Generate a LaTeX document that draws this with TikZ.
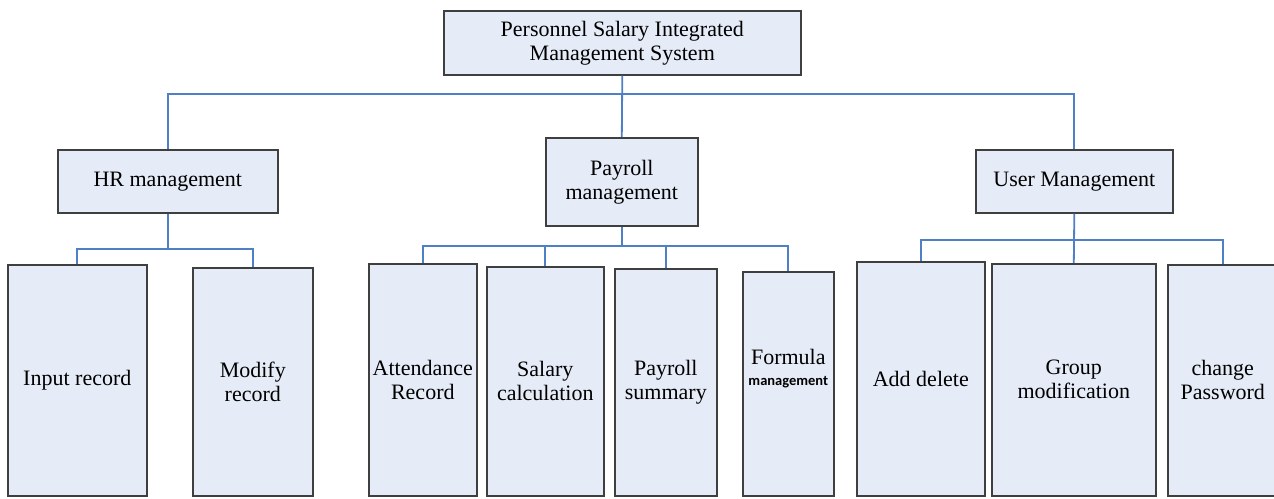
\documentclass[tikz,border=0pt]{standalone}
\usepackage{fontspec}
\setmainfont{Liberation Serif}
\newfontfamily\smallsans{Carlito}
\usepackage{tikz}
\usetikzlibrary{positioning, calc}
\definecolor{boxFill}{HTML}{E6ECF7}
\definecolor{boxLine}{HTML}{3F3F3F}
\definecolor{linkBlue}{HTML}{4F7FC4}

\begin{document}
\begin{tikzpicture}[x=1pt, y=-1pt,
    cell/.style={draw=boxLine, fill=boxFill, line width=1.6pt, inner sep=0pt,
        anchor=north west, align=center, font=\fontsize{22}{24}\selectfont},
    link/.style={draw=linkBlue, line width=1.8pt}]
        \useasboundingbox (0,0) rectangle (1274,498);

        % Root
        \node[cell, minimum width=357pt, minimum height=64pt] (root) at (443,10) {Personnel Salary Integrated\\Management System};

        % Second level
        \node[cell, minimum width=220pt, minimum height=63pt] (hr) at (57,149) {HR management};
        \node[cell, minimum width=152pt, minimum height=88pt] (pay) at (545,137) {Payroll\\management};
        \node[cell, minimum width=197pt, minimum height=63pt] (user) at (975,149) {User Management};

        % HR leaves
        \node[cell, minimum width=139pt, minimum height=231pt] (input) at (7,264) {Input record};
        \node[cell, minimum width=120pt, minimum height=228pt] (modify) at (192,267) {Modify\\record};

        % Payroll leaves
        \node[cell, minimum width=108pt, minimum height=232pt] (attend) at (368,263) {Attendance\\Record};
        \node[cell, minimum width=117pt, minimum height=229pt] (salary) at (486,266) {Salary\\calculation};
        \node[cell, minimum width=102pt, minimum height=227pt] (summary) at (614,268) {Payroll\\summary};
        \node[cell, minimum width=91pt, minimum height=224pt] (formula) at (742,271) {Formula\\[-3pt]{\smallsans\bfseries\fontsize{14.5}{16}\selectfont management}\\[8pt]};

        % User leaves
        \node[cell, minimum width=128pt, minimum height=234pt] (adddel) at (856,261) {Add delete};
        \node[cell, minimum width=164pt, minimum height=232pt] (group) at (991,263) {Group\\modification};
        \node[cell, minimum width=110pt, minimum height=231pt] (passwd) at (1167,264) {change\\Password};

        % Bus lines
        \coordinate (rootbus) at ($(root.south)+(0,18)$);
        \coordinate (hrbus) at ($(hr.south)+(0,35)$);
        \coordinate (paybus) at ($(pay.south)+(0,19)$);
        \coordinate (userbus) at ($(user.south)+(0,26)$);

        \draw[link] (root.south) -- (pay.north);
        \draw[link] (rootbus) -| (hr.north);
        \draw[link] (rootbus) -| (user.north);

        \draw[link] (hr.south) -- (hrbus);
        \draw[link] (hrbus) -| (input.north);
        \draw[link] (hrbus) -| (modify.north);

        \draw[link] (pay.south) -- (paybus);
        \draw[link] (paybus) -| (attend.north);
        \draw[link] (paybus) -| (salary.north);
        \draw[link] (paybus) -| (summary.north);
        \draw[link] (paybus) -| (formula.north);

        \draw[link] (user.south) -- (group.north);
        \draw[link] (userbus) -| (adddel.north);
        \draw[link] (userbus) -| (passwd.north);
    \end{tikzpicture}
\end{document}
